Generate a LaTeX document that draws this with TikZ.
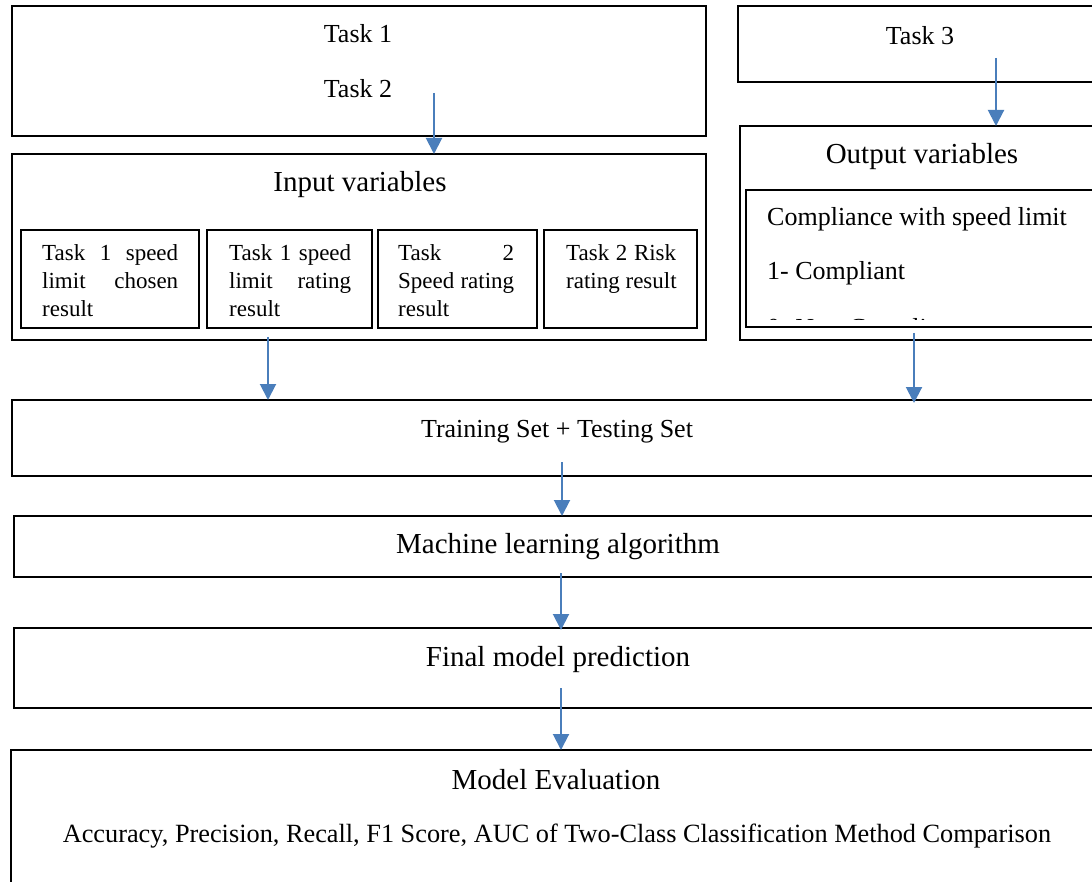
\documentclass[tikz,border=0pt]{standalone}
\usepackage{fontspec}
\setmainfont{Liberation Serif}
\usetikzlibrary{arrows.meta}
\definecolor{arrowblue}{RGB}{74,126,187}
\tikzset{
  box/.style={draw=black, line width=2pt, rectangle, inner sep=0pt, outer sep=0pt, anchor=north west},
  lbl/.style={inner sep=0pt, font=\fontsize{26}{30}\selectfont},
  ttl/.style={inner sep=0pt, font=\fontsize{29}{34}\selectfont},
  subtxt/.style={inner sep=0pt, anchor=north west, align=left, font=\fontsize{23}{28}\selectfont},
  arr/.style={draw=arrowblue, line width=2pt, -{Triangle[length=16pt,width=16pt]}},
}
\newcommand{\jline}[2]{\hbox to #1{#2}}
\begin{document}
\begin{tikzpicture}[x=1pt,y=-1pt]
\useasboundingbox (0,0) rectangle (1092,882);
\clip (0,0) rectangle (1092,882);
% top boxes
\node[box, minimum width=694pt, minimum height=130pt] (tasks) at (12,6) {};
\node[lbl] (t1) at (358,34) {Task 1};
\node[lbl] (t2) at (358,89) {Task 2};
\node[box, minimum width=362pt, minimum height=76pt] (task3) at (738,6) {};
\node[lbl] (t3) at (920,36) {Task 3};
% input variables
\node[box, minimum width=694pt, minimum height=186pt] (input) at (12,154) {};
\node[ttl] (inttl) at (360,185) {Input variables};
\node[box, minimum width=178pt, minimum height=98pt] (s1) at (21,230) {};
\node[box, minimum width=165pt, minimum height=98pt] (s2) at (207,230) {};
\node[box, minimum width=159pt, minimum height=98pt] (s3) at (378,230) {};
\node[box, minimum width=153pt, minimum height=98pt] (s4) at (544,230) {};
\node[subtxt] (s1t) at (42,244) {\jline{136pt}{Task\hfill 1\hfill speed}\\\jline{136pt}{limit\hfill chosen}\\result};
\node[subtxt] (s2t) at (229,244) {\jline{122pt}{Task 1 speed}\\\jline{122pt}{limit\hfill rating}\\result};
\node[subtxt] (s3t) at (398,244) {\jline{116pt}{Task\hfill 2}\\\jline{116pt}{Speed rating}\\result};
\node[subtxt] (s4t) at (566,244) {\jline{110pt}{Task 2 Risk}\\rating result};
% output variables
\node[box, minimum width=360pt, minimum height=214pt] (output) at (740,126) {};
\node[ttl] (outttl) at (922,157) {Output variables};
\node[box, minimum width=354pt, minimum height=137pt] (outin) at (746,190) {};
\node[lbl, anchor=west] (o1) at (767,219) {Compliance with speed limit};
\node[lbl, anchor=west] (o2) at (767,273) {1- Compliant};
\begin{scope}
  \clip (747,191) rectangle (1092,320);
  \node[lbl, anchor=west] (o3) at (767,330) {0- Non-Compliant};
\end{scope}
% lower boxes
\node[box, minimum width=1088pt, minimum height=76pt] (train) at (12,400) {};
\node[lbl] (traint) at (557,432) {Training Set + Testing Set};
\node[box, minimum width=1086pt, minimum height=61pt] (ml) at (14,516) {};
\node[ttl] (mlt) at (558,547) {Machine learning algorithm};
\node[box, minimum width=1086pt, minimum height=80pt] (final) at (14,628) {};
\node[ttl] (finalt) at (558,660) {Final model prediction};
\node[box, minimum width=1089pt, minimum height=150pt] (eval) at (11,750) {};
\node[ttl] (evalt) at (556,780) {Model Evaluation};
\node[lbl, font=\fontsize{26.3}{30}\selectfont] (evalm) at (557,836) {Accuracy, Precision, Recall, F1 Score, AUC of Two-Class Classification Method Comparison};
% arrows
\coordinate (a1) at (434,93);
\coordinate (a2) at (996,58);
\coordinate (a3) at (268,337);
\coordinate (a4) at (914,333);
\coordinate (a5) at (562,462);
\coordinate (a6) at (561,573);
\coordinate (a7) at (561,688);
\draw[arr] (a1) -- (a1 |- input.north);
\draw[arr] (a2) -- (a2 |- output.north);
\draw[arr] (a3) -- (a3 |- train.north);
\draw[arr] (a4) -- ([yshift=-3pt]a4 |- train.north);
\draw[arr] (a5) -- (a5 |- ml.north);
\draw[arr] (a6) -- ([yshift=-2pt]a6 |- final.north);
\draw[arr] (a7) -- (a7 |- eval.north);
\end{tikzpicture}
\end{document}
